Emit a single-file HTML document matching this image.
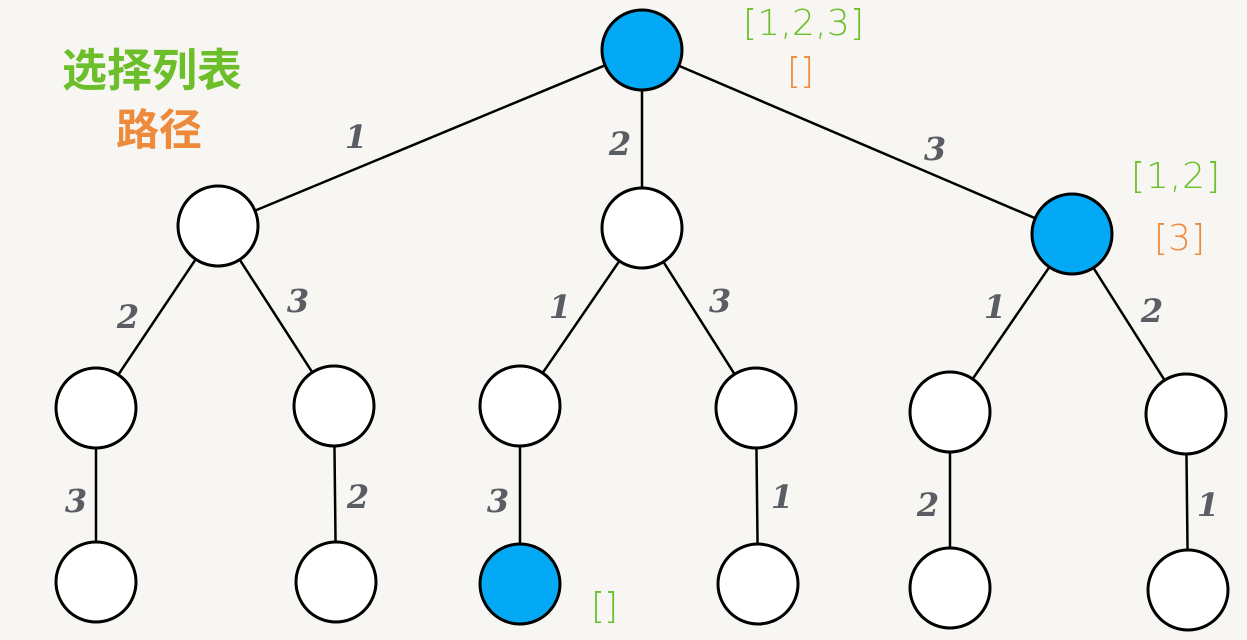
<!DOCTYPE html>
<html><head><meta charset="utf-8"><style>
body{margin:0;width:1247px;height:640px;overflow:hidden;background:#f7f6f3}
svg{display:block}
.l{font-family:"DejaVu Serif","Liberation Serif",serif;font-style:italic;font-size:32px;fill:#5a5d63;font-weight:bold}
.g{fill:#6cbf2a}.o{fill:#ee8a3c}
.b{font-family:"DejaVu Sans","Liberation Sans",sans-serif;font-size:36px;font-weight:200;letter-spacing:1px}
</style></head><body>
<svg width="1247" height="640" viewBox="0 0 1247 640">
<g stroke="#000" stroke-width="2.5" fill="none">
<line x1="642" y1="50" x2="218" y2="226"/><line x1="642" y1="50" x2="642" y2="228"/><line x1="642" y1="50" x2="1072" y2="234"/>
<line x1="218" y1="226" x2="96" y2="408"/><line x1="218" y1="226" x2="334" y2="406"/>
<line x1="642" y1="228" x2="520" y2="406"/><line x1="642" y1="228" x2="756" y2="408"/>
<line x1="1072" y1="234" x2="950" y2="412"/><line x1="1072" y1="234" x2="1186" y2="414"/>
<line x1="96" y1="408" x2="96" y2="582"/><line x1="334" y1="406" x2="336" y2="582"/><line x1="520" y1="406" x2="520" y2="584"/>
<line x1="756" y1="408" x2="758" y2="584"/><line x1="950" y1="412" x2="950" y2="588"/><line x1="1186" y1="414" x2="1188" y2="590"/>
</g>
<g stroke="#000" stroke-width="3" fill="#fff">
<circle cx="642" cy="50" r="40" fill="#03a9f4"/>
<circle cx="218" cy="226" r="40"/><circle cx="642" cy="228" r="40"/><circle cx="1072" cy="234" r="40" fill="#03a9f4"/>
<circle cx="96" cy="408" r="40"/><circle cx="334" cy="406" r="40"/><circle cx="520" cy="406" r="40"/>
<circle cx="756" cy="408" r="40"/><circle cx="950" cy="412" r="40"/><circle cx="1186" cy="414" r="40"/>
<circle cx="96" cy="582" r="40"/><circle cx="336" cy="582" r="40"/><circle cx="520" cy="584" r="40" fill="#03a9f4"/>
<circle cx="758" cy="584" r="40"/><circle cx="950" cy="588" r="40"/><circle cx="1188" cy="590" r="40"/>
</g>
<g class="l" text-anchor="middle">
<text x="356" y="148">1</text><text x="620" y="155">2</text><text x="935" y="160">3</text>
<text x="128" y="328">2</text><text x="298" y="312">3</text>
<text x="560" y="318">1</text><text x="720" y="312">3</text>
<text x="995" y="318">1</text><text x="1152" y="322">2</text>
<text x="76" y="512">3</text><text x="358" y="508">2</text><text x="498" y="512">3</text>
<text x="782" y="508">1</text><text x="928" y="516">2</text><text x="1208" y="516">1</text>
</g>
<g class="b">
<text x="743" y="35" class="g" textLength="122">[1,2,3]</text><text x="787" y="83" class="o" textLength="28">[]</text>
<text x="1131" y="188" class="g" textLength="90">[1,2]</text><text x="1154" y="250" class="o" textLength="52">[3]</text>
<text x="591" y="618" class="g" textLength="28">[]</text>
</g>
<text x="62" y="86" class="g" style="font-family:'Noto Sans CJK SC',sans-serif;font-weight:bold;font-size:45px">选择列表</text>
<text x="116" y="145" class="o" style="font-family:'Noto Sans CJK SC',sans-serif;font-weight:bold;font-size:43px">路径</text>
</svg>
</body></html>
